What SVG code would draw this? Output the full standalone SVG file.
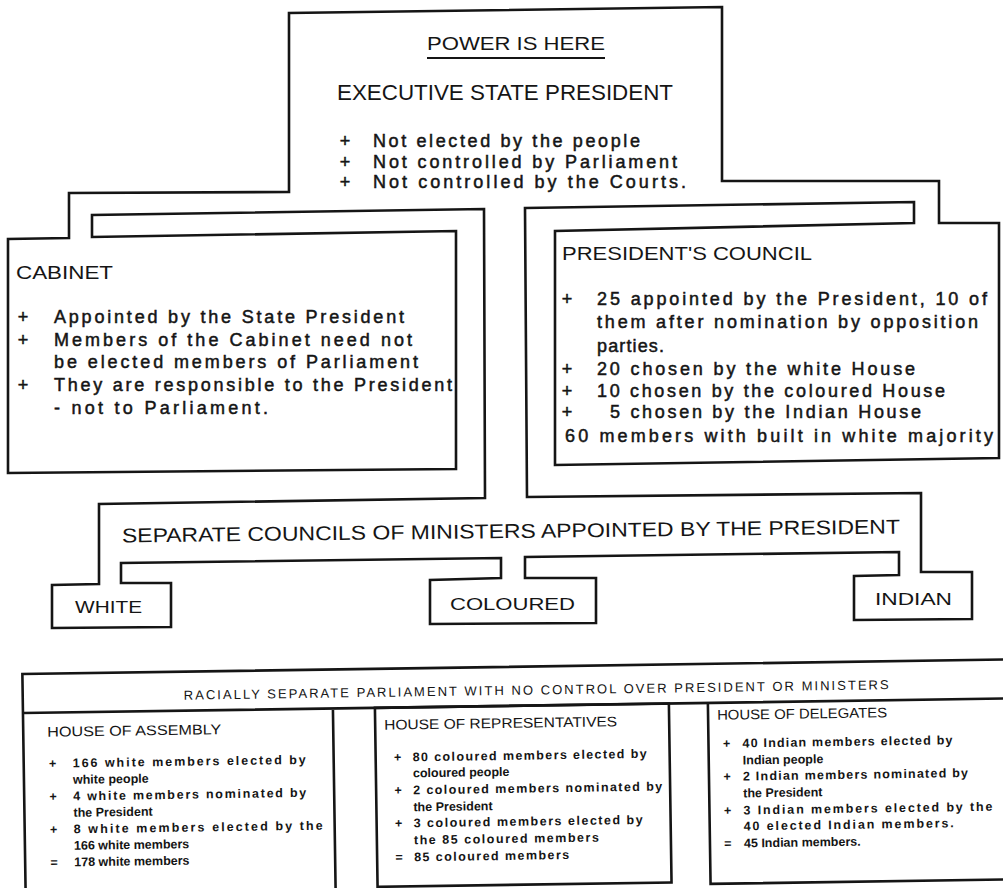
<svg xmlns="http://www.w3.org/2000/svg" width="1003" height="888" viewBox="0 0 1003 888">
<style>
.ln{fill:none;stroke:#151515;stroke-width:2.6;stroke-linejoin:miter}
.t{font-family:"Liberation Sans",Arial,sans-serif;fill:#151515}
.cap{font-size:19px}
.body{font-size:18px;stroke:#151515;stroke-width:0.5}
.sm{font-size:12.5px;font-weight:bold}
.smt{font-size:14px}
.bul{text-anchor:middle}
</style>
<rect width="1003" height="888" fill="#ffffff"/>
<g id="connectors">
<path class="ln" d="M525,208 L914,202 L914,223 L555,231 L555,465 L999,458 L999,223 L939,223 L939,181 L722,181 L722,7 L289,13 L289,192 L69,193 L69,238 L8,239 L8,473 L456,469 L456,231 L92,237 L92,215 L484,209 L485,498 L99,504 L99,584 L52,585 L52,628 L171,627 L171,583 L121,583 L121,563 L501,558 L501,578 L430,580 L430,624 L596,623 L596,578 L525,578 L525,557 L899,552 L899,575 L854,576 L854,620 L972,619 L972,572 L921,572 L921,493 L527,497 Z"/>
</g>
<g id="president">
<text class="t cap" x="427" y="50" textLength="178" lengthAdjust="spacingAndGlyphs">POWER IS HERE</text>
<line x1="427" y1="58" x2="605" y2="58" stroke="#151515" stroke-width="2"/>
<text class="t" style="font-size:22px" x="337" y="100" textLength="336" lengthAdjust="spacingAndGlyphs">EXECUTIVE STATE PRESIDENT</text>
<text class="t body bul" x="345" y="147">+</text>
<text class="t body bul" x="345" y="168">+</text>
<text class="t body bul" x="345" y="188">+</text>
<text class="t body" x="373" y="147" textLength="267" lengthAdjust="spacing">Not elected by the people</text>
<text class="t body" x="373" y="168" textLength="304" lengthAdjust="spacing">Not controlled by Parliament</text>
<text class="t body" x="373" y="188" textLength="313" lengthAdjust="spacing">Not controlled by the Courts.</text>
</g>
<g id="cabinet">
<text class="t cap" x="16" y="279" textLength="97" lengthAdjust="spacingAndGlyphs">CABINET</text>
<text class="t body bul" x="23" y="323">+</text>
<text class="t body bul" x="23" y="345.5">+</text>
<text class="t body bul" x="23" y="391">+</text>
<text class="t body" x="54" y="323" textLength="350" lengthAdjust="spacing">Appointed by the State President</text>
<text class="t body" x="54" y="345.5" textLength="358" lengthAdjust="spacing">Members of the Cabinet need not</text>
<text class="t body" x="54" y="368" textLength="364" lengthAdjust="spacing">be elected members of Parliament</text>
<text class="t body" x="54" y="391" textLength="398" lengthAdjust="spacing">They are responsible to the President</text>
<text class="t body" x="54" y="414" textLength="214" lengthAdjust="spacing">- not to Parliament.</text>
</g>
<g id="council">
<text class="t cap" x="562" y="260" textLength="250" lengthAdjust="spacingAndGlyphs">PRESIDENT'S COUNCIL</text>
<text class="t body bul" x="567" y="305">+</text>
<text class="t body bul" x="567" y="375">+</text>
<text class="t body bul" x="567" y="397">+</text>
<text class="t body bul" x="567" y="418">+</text>
<text class="t body" x="597" y="305" textLength="390" lengthAdjust="spacing">25 appointed by the President, 10 of</text>
<text class="t body" x="597" y="328" textLength="381" lengthAdjust="spacing">them after nomination by opposition</text>
<text class="t body" x="597" y="352" textLength="67" lengthAdjust="spacing">parties.</text>
<text class="t body" x="597" y="375" textLength="318" lengthAdjust="spacing">20 chosen by the white House</text>
<text class="t body" x="597" y="397" textLength="348" lengthAdjust="spacing">10 chosen by the coloured House</text>
<text class="t body" x="610" y="418" textLength="311" lengthAdjust="spacing">5 chosen by the Indian House</text>
<text class="t body" x="565" y="442" textLength="428" lengthAdjust="spacing">60 members with built in white majority</text>
</g>
<g id="ministers">
<text class="t" style="font-size:20px" x="122" y="538" textLength="778" lengthAdjust="spacingAndGlyphs" transform="rotate(-0.66 511 537)">SEPARATE COUNCILS OF MINISTERS APPOINTED BY THE PRESIDENT</text>
</g>
<g id="white">
<text class="t" style="font-size:16px" x="75" y="613" textLength="67" lengthAdjust="spacingAndGlyphs">WHITE</text>
</g>
<g id="coloured">
<text class="t" style="font-size:17px" x="450" y="610" textLength="125" lengthAdjust="spacingAndGlyphs">COLOURED</text>
</g>
<g id="indian">
<text class="t" style="font-size:17px" x="875" y="605" textLength="77" lengthAdjust="spacingAndGlyphs">INDIAN</text>
</g>
<g id="parliament" transform="rotate(-0.85 500 780)">
<path class="ln" d="M1010,667 H24 V895 M24,706 H1010 M334,706 V895"/>
<text class="t" style="font-size:13px" x="185" y="695" textLength="705" lengthAdjust="spacing">RACIALLY SEPARATE PARLIAMENT WITH NO CONTROL OVER PRESIDENT OR MINISTERS</text>
<g id="house-of-assembly">
<text class="t smt" x="48" y="730" textLength="174" lengthAdjust="spacingAndGlyphs">HOUSE OF ASSEMBLY</text>
<text class="t sm bul" x="53" y="761">+</text>
<text class="t sm bul" x="53" y="794">+</text>
<text class="t sm bul" x="53" y="827">+</text>
<text class="t sm bul" x="53" y="860">=</text>
<text class="t sm" x="73" y="761" textLength="233" lengthAdjust="spacing">166 white members elected by</text>
<text class="t sm" x="73" y="777.5">white people</text>
<text class="t sm" x="73" y="794" textLength="233" lengthAdjust="spacing">4 white members nominated by</text>
<text class="t sm" x="73" y="810.5">the President</text>
<text class="t sm" x="73" y="827" textLength="249" lengthAdjust="spacing">8 white members elected by the</text>
<text class="t sm" x="73" y="843.5">166 white members</text>
<text class="t sm" x="73" y="860">178 white members</text>
</g>
<g id="house-of-representatives">
<rect class="ln" x="376" y="706" width="294" height="179"/>
<text class="t smt" x="385" y="728" textLength="233" lengthAdjust="spacingAndGlyphs">HOUSE OF REPRESENTATIVES</text>
<text class="t sm bul" x="398" y="760">+</text>
<text class="t sm bul" x="398" y="793">+</text>
<text class="t sm bul" x="398" y="826">+</text>
<text class="t sm bul" x="398" y="860">=</text>
<text class="t sm" x="413" y="760" textLength="234" lengthAdjust="spacing">80 coloured members elected by</text>
<text class="t sm" x="413" y="776">coloured people</text>
<text class="t sm" x="413" y="793" textLength="249" lengthAdjust="spacing">2 coloured members nominated by</text>
<text class="t sm" x="413" y="810">the President</text>
<text class="t sm" x="413" y="826" textLength="229" lengthAdjust="spacing">3 coloured members elected by</text>
<text class="t sm" x="413" y="843" textLength="185" lengthAdjust="spacing">the 85 coloured members</text>
<text class="t sm" x="413" y="860" textLength="155" lengthAdjust="spacing">85 coloured members</text>
</g>
<g id="house-of-delegates">
<path class="ln" d="M709,706 V887 H1010"/>
<text class="t smt" x="718" y="723" textLength="170" lengthAdjust="spacingAndGlyphs">HOUSE OF DELEGATES</text>
<text class="t sm bul" x="727" y="751">+</text>
<text class="t sm bul" x="727" y="784">+</text>
<text class="t sm bul" x="727" y="818">+</text>
<text class="t sm bul" x="727" y="851">=</text>
<text class="t sm" x="743" y="751" textLength="210" lengthAdjust="spacing">40 Indian members elected by</text>
<text class="t sm" x="743" y="768">Indian people</text>
<text class="t sm" x="743" y="784" textLength="225" lengthAdjust="spacing">2 Indian members nominated by</text>
<text class="t sm" x="743" y="801">the President</text>
<text class="t sm" x="743" y="818" textLength="249" lengthAdjust="spacing">3 Indian members elected by the</text>
<text class="t sm" x="743" y="834" textLength="210" lengthAdjust="spacing">40 elected Indian members.</text>
<text class="t sm" x="743" y="851">45 Indian members.</text>
</g>
</g>
</svg>
